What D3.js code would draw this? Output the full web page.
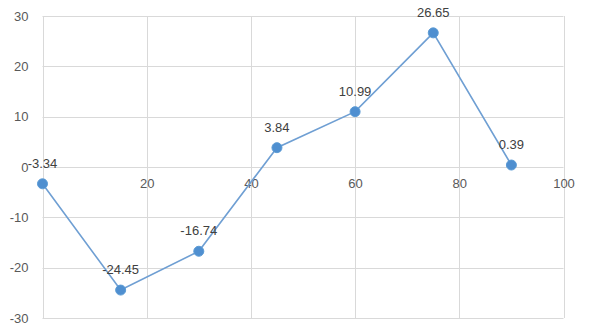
<!DOCTYPE html>
<html>
<head>
<meta charset="utf-8">
<script src="https://cdn.jsdelivr.net/npm/d3@7"></script>
<style>
  body { margin: 0; background: #fff; }
  text { font-family: "Liberation Sans", Arial, sans-serif; }
</style>
</head>
<body>
<div id="wrapper"></div>
<script>
const xValues = [0, 15, 30, 45, 60, 75, 90];
const yValues = [-3.34, -24.45, -16.74, 3.84, 10.99, 26.65, 0.39];
const xTicks = [0, 20, 40, 60, 80, 100];
const yTicks = [-30, -20, -10, 0, 10, 20, 30];

const dimension = { width: 591, height: 330 };

const svg = d3.select("#wrapper").append("svg")
    .attr("width", dimension.width)
    .attr("height", dimension.height);

const scaleX = d3.scaleLinear().domain([0, 100]).range([42.5, 563.5]);
const scaleY = d3.scaleLinear().domain([-30, 30]).range([318, 16]);

// gridlines
const grid = svg.append("g").attr("stroke", "#d9d9d9").attr("stroke-width", 1);
grid.selectAll(".hgrid").data(yTicks).enter().append("line")
    .attr("x1", scaleX(0)).attr("x2", scaleX(100))
    .attr("y1", d => Math.round(scaleY(d)) + 0.5)
    .attr("y2", d => Math.round(scaleY(d)) + 0.5);
grid.selectAll(".vgrid").data(xTicks).enter().append("line")
    .attr("y1", scaleY(30)).attr("y2", scaleY(-30))
    .attr("x1", d => Math.round(scaleX(d)) + 0.5)
    .attr("x2", d => Math.round(scaleX(d)) + 0.5);

// axes (labels only), plain hyphen for negatives like the original
const yAxis = svg.append("g")
    .attr("transform", "translate(" + (scaleX(0) - 6) + ",0)")
    .call(d3.axisLeft(scaleY).tickValues(yTicks).tickSize(0).tickPadding(8)
        .tickFormat(d => String(d)));
const xAxis = svg.append("g")
    .attr("transform", "translate(0," + scaleY(0) + ")")
    .call(d3.axisBottom(scaleX).tickValues(xTicks).tickSize(0).tickPadding(12)
        .tickFormat(d => String(d)));
[xAxis, yAxis].forEach(a => {
    a.select(".domain").remove();
    a.selectAll("text").attr("fill", "#595959").attr("font-size", "13px")
        .attr("font-family", "'Liberation Sans', Arial, sans-serif");
});

// line
const line = d3.line()
    .x((d, i) => scaleX(xValues[i]))
    .y(d => scaleY(d));

svg.append("path")
    .datum(yValues)
    .attr("fill", "none")
    .attr("stroke", "#6f9fd3")
    .attr("stroke-width", 1.6)
    .attr("d", line);

svg.selectAll(".dot").data(yValues).enter().append("circle")
    .attr("cx", (d, i) => scaleX(xValues[i]))
    .attr("cy", d => scaleY(d))
    .attr("r", 5)
    .attr("fill", "#4f8fd0")
    .attr("stroke", "#5b9bd5")
    .attr("stroke-width", 1);

// data labels
svg.selectAll(".lbl").data(yValues).enter().append("text")
    .attr("x", (d, i) => scaleX(xValues[i]))
    .attr("y", d => scaleY(d) - 16)
    .attr("text-anchor", "middle")
    .attr("fill", "#404040")
    .attr("font-size", "13px")
    .text(d => d.toFixed(2));
</script>
</body>
</html>
